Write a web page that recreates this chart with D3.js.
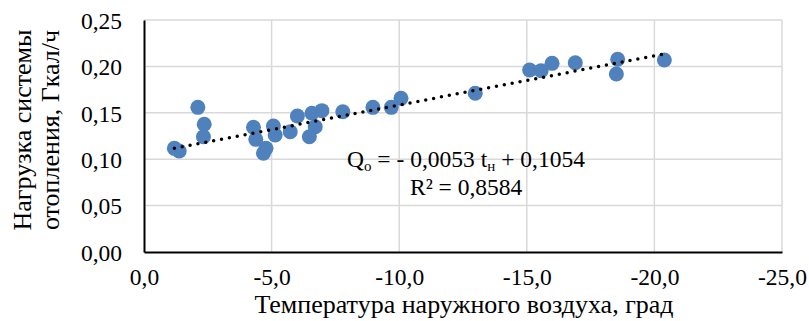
<!DOCTYPE html>
<html>
<head>
<meta charset="utf-8">
<script src="https://cdn.jsdelivr.net/npm/d3@7"></script>
<style>
  body { margin: 0; background: #fff; }
  svg text { font-family: "Liberation Serif", "Times New Roman", serif; fill: #000; }
</style>
</head>
<body>
<div id="chart"></div>
<script>
// temperatura naruzhnogo vozduha (x) a nagruzka (y)
const tempData = [-1.19, -1.38, -2.11, -2.36, -2.33, -4.29, -4.38, -4.68, -4.78, -5.07,
                  -5.14, -5.73, -6.01, -6.58, -6.97, -6.71, -6.48, -7.79, -8.97, -9.69,
                  -10.07, -12.98, -15.11, -15.56, -15.99, -16.90, -18.56, -18.51, -20.39];
const loadData = [0.1117, 0.1088, 0.1559, 0.1376, 0.1242, 0.1344, 0.1214, 0.1064, 0.1117, 0.1358,
                  0.1261, 0.1296, 0.1466, 0.1495, 0.1523, 0.1350, 0.1242, 0.1512, 0.1559, 0.1559,
                  0.1656, 0.1710, 0.1961, 0.1954, 0.2033, 0.2040, 0.2077, 0.1918, 0.2069];

// koeficienty trendu
const trendSlope = -0.0053;
const trendIntercept = 0.1054;

const xTicks = [0, -5, -10, -15, -20, -25];
const yTicks = [0, 0.05, 0.10, 0.15, 0.20, 0.25];

const width = 809, height = 321;
const margin = { left: 144, right: 27, top: 20, bottom: 69 };

const svg = d3.select("#chart").append("svg")
    .attr("width", width)
    .attr("height", height);

const x = d3.scaleLinear().domain([0, -25]).range([margin.left, width - margin.right]);
const y = d3.scaleLinear().domain([0, 0.25]).range([height - margin.bottom, margin.top]);

const fmt = (d, n) => d.toFixed(n).replace(".", ",");

// mrizka
svg.append("g")
    .selectAll("line.h")
    .data(yTicks.slice(1))
    .join("line")
    .attr("x1", x(0)).attr("x2", x(-25))
    .attr("y1", d => y(d)).attr("y2", d => y(d))
    .attr("stroke", "#d9d9d9").attr("stroke-width", 1.5);

svg.append("g")
    .selectAll("line.v")
    .data(xTicks.slice(1))
    .join("line")
    .attr("x1", d => x(d)).attr("x2", d => x(d))
    .attr("y1", y(0)).attr("y2", y(0.25))
    .attr("stroke", "#d9d9d9").attr("stroke-width", 1.5);

// osy
const xAxis = svg.append("g")
    .attr("transform", `translate(0,${y(0)})`)
    .call(d3.axisBottom(x).tickValues(xTicks).tickSize(0).tickPadding(16).tickFormat(d => fmt(d, 1)));
const yAxis = svg.append("g")
    .attr("transform", `translate(${x(0)},0)`)
    .call(d3.axisLeft(y).tickValues(yTicks).tickSize(0).tickPadding(22).tickFormat(d => fmt(d, 2)));

[xAxis, yAxis].forEach(a => {
    a.select(".domain").attr("stroke", "#000").attr("stroke-width", 2);
    a.selectAll("text").style("font-size", "23.5px").style("font-family", "Liberation Serif");
});
yAxis.selectAll("text").attr("dy", "0.35em");

// body
svg.append("g")
    .selectAll("circle")
    .data(tempData.map((t, i) => [t, loadData[i]]))
    .join("circle")
    .attr("cx", d => x(d[0]))
    .attr("cy", d => y(d[1]))
    .attr("r", 7.5)
    .attr("fill", "#4f81bd");

// linearni trend
const tMin = d3.max(tempData), tMax = d3.min(tempData);
svg.append("line")
    .attr("x1", x(tMin)).attr("y1", y(trendSlope * tMin + trendIntercept))
    .attr("x2", x(tMax)).attr("y2", y(trendSlope * tMax + trendIntercept))
    .attr("stroke", "#000")
    .attr("stroke-width", 3.5)
    .attr("stroke-linecap", "round")
    .attr("stroke-dasharray", "0 8");

// rovnice
const eq = svg.append("text").attr("x", 347).attr("y", 167).style("font-size", "23.5px");
eq.append("tspan").text("Q");
eq.append("tspan").attr("dy", 4).style("font-size", "15px").text("о");
eq.append("tspan").attr("dy", -4).text(" = - " + fmt(-trendSlope, 4) + " t");
eq.append("tspan").attr("dy", 4).style("font-size", "15px").text("н");
eq.append("tspan").attr("dy", -4).text(" + " + fmt(trendIntercept, 4));

svg.append("text").attr("x", 410).attr("y", 195).style("font-size", "23.5px")
    .text("R² = 0,8584");

// popisky os
svg.append("text")
    .attr("x", 464)
    .attr("y", 313)
    .attr("text-anchor", "middle")
    .style("font-size", "26px")
    .text("Температура наружного воздуха, град");

const yTitle = svg.append("text")
    .attr("transform", `translate(0,130) rotate(-90)`)
    .attr("text-anchor", "middle")
    .style("font-size", "26px");
yTitle.append("tspan").attr("x", 0).attr("y", 31).text("Нагрузка системы");
yTitle.append("tspan").attr("x", 0).attr("y", 59).text("отопления, Гкал/ч");
</script>
</body>
</html>
